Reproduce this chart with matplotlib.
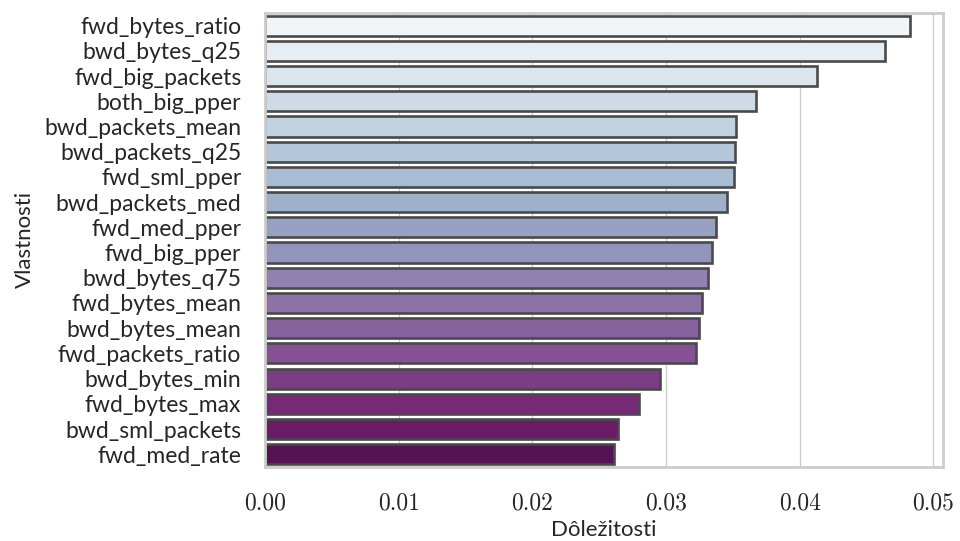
import matplotlib
matplotlib.use('Agg')
import matplotlib.pyplot as plt
import seaborn as sns
import pandas as pd

# dolezitosti vlastnosti (precitane z grafu)
features = ['fwd_bytes_ratio', 'bwd_bytes_q25', 'fwd_big_packets', 'both_big_pper',
            'bwd_packets_mean', 'bwd_packets_q25', 'fwd_sml_pper', 'bwd_packets_med',
            'fwd_med_pper', 'fwd_big_pper', 'bwd_bytes_q75', 'fwd_bytes_mean',
            'bwd_bytes_mean', 'fwd_packets_ratio', 'bwd_bytes_min', 'fwd_bytes_max',
            'bwd_sml_packets', 'fwd_med_rate']
importances = [0.04829, 0.04635, 0.04129, 0.03677, 0.03525, 0.03518, 0.03508, 0.03455,
               0.03373, 0.03348, 0.03318, 0.03271, 0.03246, 0.03224, 0.02954, 0.02800,
               0.02638, 0.02613]
x_ticks = [0.00, 0.01, 0.02, 0.03, 0.04, 0.05]

df = pd.DataFrame({'Vlastnosti': features, 'Dôležitosti': importances})

sns.set_theme(style='whitegrid')
plt.rcParams['font.family'] = ['Lato', 'DejaVu Sans']

fig = plt.figure(figsize=(9.6, 5.41), dpi=100)
ax = fig.add_axes([0.276, 0.137, 0.706, 0.839])

sns.barplot(data=df, x='Dôležitosti', y='Vlastnosti', hue='Vlastnosti', palette='BuPu',
            legend=False, edgecolor='#4a4a4a', linewidth=1.9, ax=ax)

ax.set_xticks(x_ticks)
ax.set_xticklabels([f'{t:.2f}' for t in x_ticks], family='cmr10', fontsize=17)
ax.tick_params(axis='y', labelsize=16.5, pad=11, colors='#262626')
ax.tick_params(axis='x', pad=12, colors='#262626')
ax.set_xlabel('Dôležitosti', fontsize=16, labelpad=4)
ax.set_ylabel('Vlastnosti', fontsize=16, labelpad=7)
ax.grid(axis='y', visible=False)
for s in ax.spines.values():
    s.set_color('#cccccc')
    s.set_linewidth(2)

fig.savefig('out.png', dpi=100)
